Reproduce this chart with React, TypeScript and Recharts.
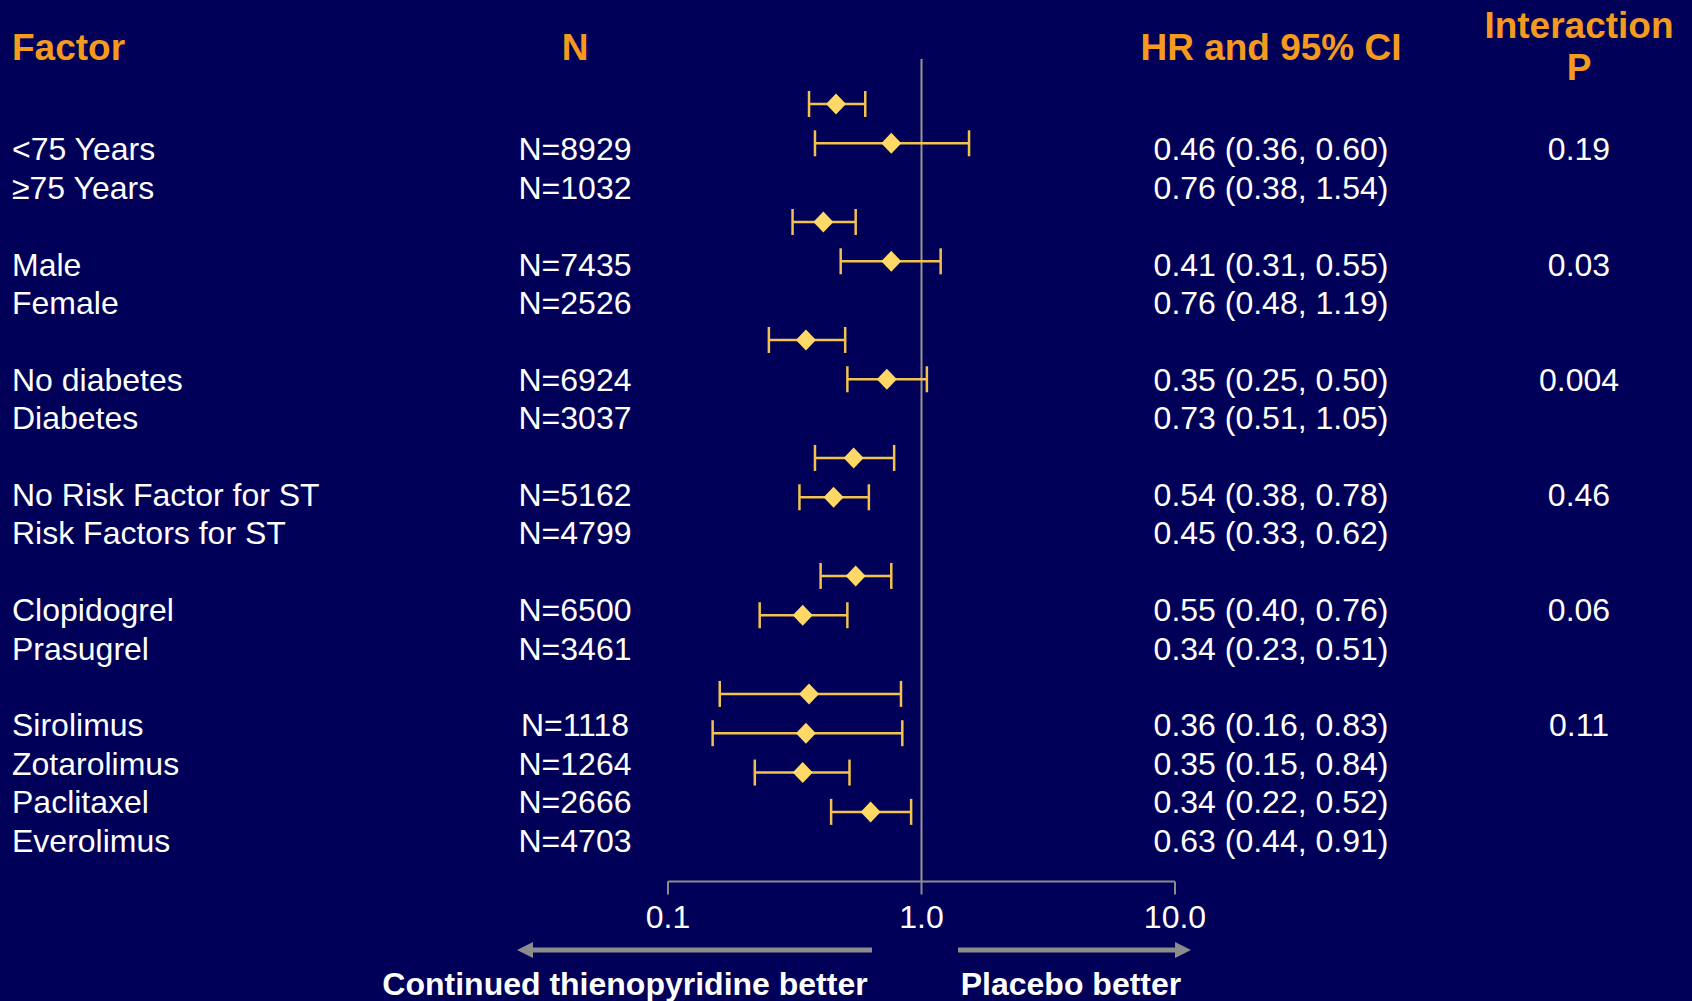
import React from "react";
import { ScatterChart, Scatter, XAxis, YAxis, ErrorBar, ReferenceLine } from "recharts";

// subgroup rows, in order; slot = row position (gaps between groups)
const SLOTS = [0, 1, 3, 4, 6, 7, 9, 10, 12, 13, 15, 16, 17, 18];
const FACTORS = [
  "<75 Years",
  "≥75 Years",
  "Male",
  "Female",
  "No diabetes",
  "Diabetes",
  "No Risk Factor for ST",
  "Risk Factors for ST",
  "Clopidogrel",
  "Prasugrel",
  "Sirolimus",
  "Zotarolimus",
  "Paclitaxel",
  "Everolimus",
];
const N_VALUES = [8929, 1032, 7435, 2526, 6924, 3037, 5162, 4799, 6500, 3461, 1118, 1264, 2666, 4703];
const HR = [0.46, 0.76, 0.41, 0.76, 0.35, 0.73, 0.54, 0.45, 0.55, 0.34, 0.36, 0.35, 0.34, 0.63];
const CI_LOW = [0.36, 0.38, 0.31, 0.48, 0.25, 0.51, 0.38, 0.33, 0.4, 0.23, 0.16, 0.15, 0.22, 0.44];
const CI_HIGH = [0.6, 1.54, 0.55, 1.19, 0.5, 1.05, 0.78, 0.62, 0.76, 0.51, 0.83, 0.84, 0.52, 0.91];
// interaction p, shown on the first row of each group
const P_VALUES = ["0.19", "", "0.03", "", "0.004", "", "0.46", "", "0.06", "", "0.11", "", "", ""];
const X_TICKS = [0.1, 1, 10];
const X_TICK_LABELS = ["0.1", "1.0", "10.0"];

const BG = "#000058";
const ORANGE = "#F39A1F";
const GOLD = "#FFD865";
const GOLD_LINE = "#F2C24E";
const GREY = "#8C8C8C";
const FONT = "Arial, 'Liberation Sans', sans-serif";

const W = 1692;
const H = 1001;

const rows = SLOTS.map((slot, i) => ({
  slot,
  hr: HR[i],
  err: [+(HR[i] - CI_LOW[i]).toFixed(3), +(CI_HIGH[i] - HR[i]).toFixed(3)],
}));

const Diamond = (props: any) => {
  const { cx, cy } = props;
  if (cx == null || cy == null) return null;
  const w = 10;
  const h = 10.5;
  return (
    <polygon
      points={`${cx - w},${cy} ${cx},${cy - h} ${cx + w},${cy} ${cx},${cy + h}`}
      fill={GOLD}
    />
  );
};

const Tick = (props: any) => {
  const { x, y, payload, index } = props;
  return (
    <text x={x} y={y + 31} textAnchor="middle" fill="#fff" fontSize={32} fontFamily={FONT}>
      {X_TICK_LABELS[index] ?? String(payload.value)}
    </text>
  );
};

function Labels() {
  const rowY = (slot: number) => 149 + 38.4 * slot + 11.3;
  const head = { fill: ORANGE, fontSize: 37, fontWeight: 700, fontFamily: FONT } as const;
  const body = { fill: "#fff", fontSize: 32, fontFamily: FONT } as const;
  return (
    <svg
      width={W}
      height={H}
      style={{ position: "absolute", left: 0, top: 0, pointerEvents: "none" }}
    >
      <text x={12} y={60} {...head}>Factor</text>
      <text x={575} y={60} textAnchor="middle" {...head}>N</text>
      <text x={1271} y={60} textAnchor="middle" {...head}>HR and 95% CI</text>
      <text x={1579} y={38} textAnchor="middle" {...head}>Interaction</text>
      <text x={1579} y={80} textAnchor="middle" {...head}>P</text>

      {SLOTS.map((slot, i) => (
        <g key={i}>
          <text x={12} y={rowY(slot)} {...body}>{FACTORS[i]}</text>
          <text x={575} y={rowY(slot)} textAnchor="middle" {...body}>N={N_VALUES[i]}</text>
          <text x={1271} y={rowY(slot)} textAnchor="middle" {...body}>
            {`${HR[i].toFixed(2)} (${CI_LOW[i].toFixed(2)}, ${CI_HIGH[i].toFixed(2)})`}
          </text>
          {P_VALUES[i] && (
            <text x={1579} y={rowY(slot)} textAnchor="middle" {...body}>{P_VALUES[i]}</text>
          )}
        </g>
      ))}

      {/* direction arrows */}
      <rect x={532} y={947.5} width={340} height={5} fill={GREY} />
      <polygon points="517,950 533,942 533,958" fill={GREY} />
      <rect x={958} y={947.5} width={218} height={5} fill={GREY} />
      <polygon points="1191,950 1175,942 1175,958" fill={GREY} />

      <text x={625} y={995} textAnchor="middle" fill="#fff" fontSize={32} fontWeight={700} fontFamily={FONT}>
        Continued thienopyridine better
      </text>
      <text x={1071} y={995} textAnchor="middle" fill="#fff" fontSize={32} fontWeight={700} fontFamily={FONT}>
        Placebo better
      </text>
    </svg>
  );
}

export default function App() {
  return (
    <div style={{ position: "absolute", left: 0, top: 0, width: W, height: H, background: BG, overflow: "hidden" }}>
      <ScatterChart width={W} height={H} margin={{ top: 59, right: 517, bottom: 0, left: 668 }}>
        <XAxis
          type="number"
          dataKey="hr"
          scale="log"
          domain={[0.1, 10]}
          allowDataOverflow
          ticks={X_TICKS}
          interval={0}
          height={119.5}
          tickSize={13}
          tick={<Tick />}
          axisLine={{ stroke: GREY, strokeWidth: 2 }}
          tickLine={{ stroke: GREY, strokeWidth: 2 }}
        />
        <YAxis type="number" dataKey="slot" domain={[-1.144, 19.77]} reversed hide width={0} />
        <ReferenceLine x={1} stroke="#9A968A" strokeWidth={2} ifOverflow="visible" />
        <Scatter data={rows} shape={<Diamond />} isAnimationActive={false}>
          <ErrorBar dataKey="err" direction="x" width={13} stroke={GOLD_LINE} strokeWidth={2.5} />
        </Scatter>
      </ScatterChart>
      <Labels />
    </div>
  );
}
